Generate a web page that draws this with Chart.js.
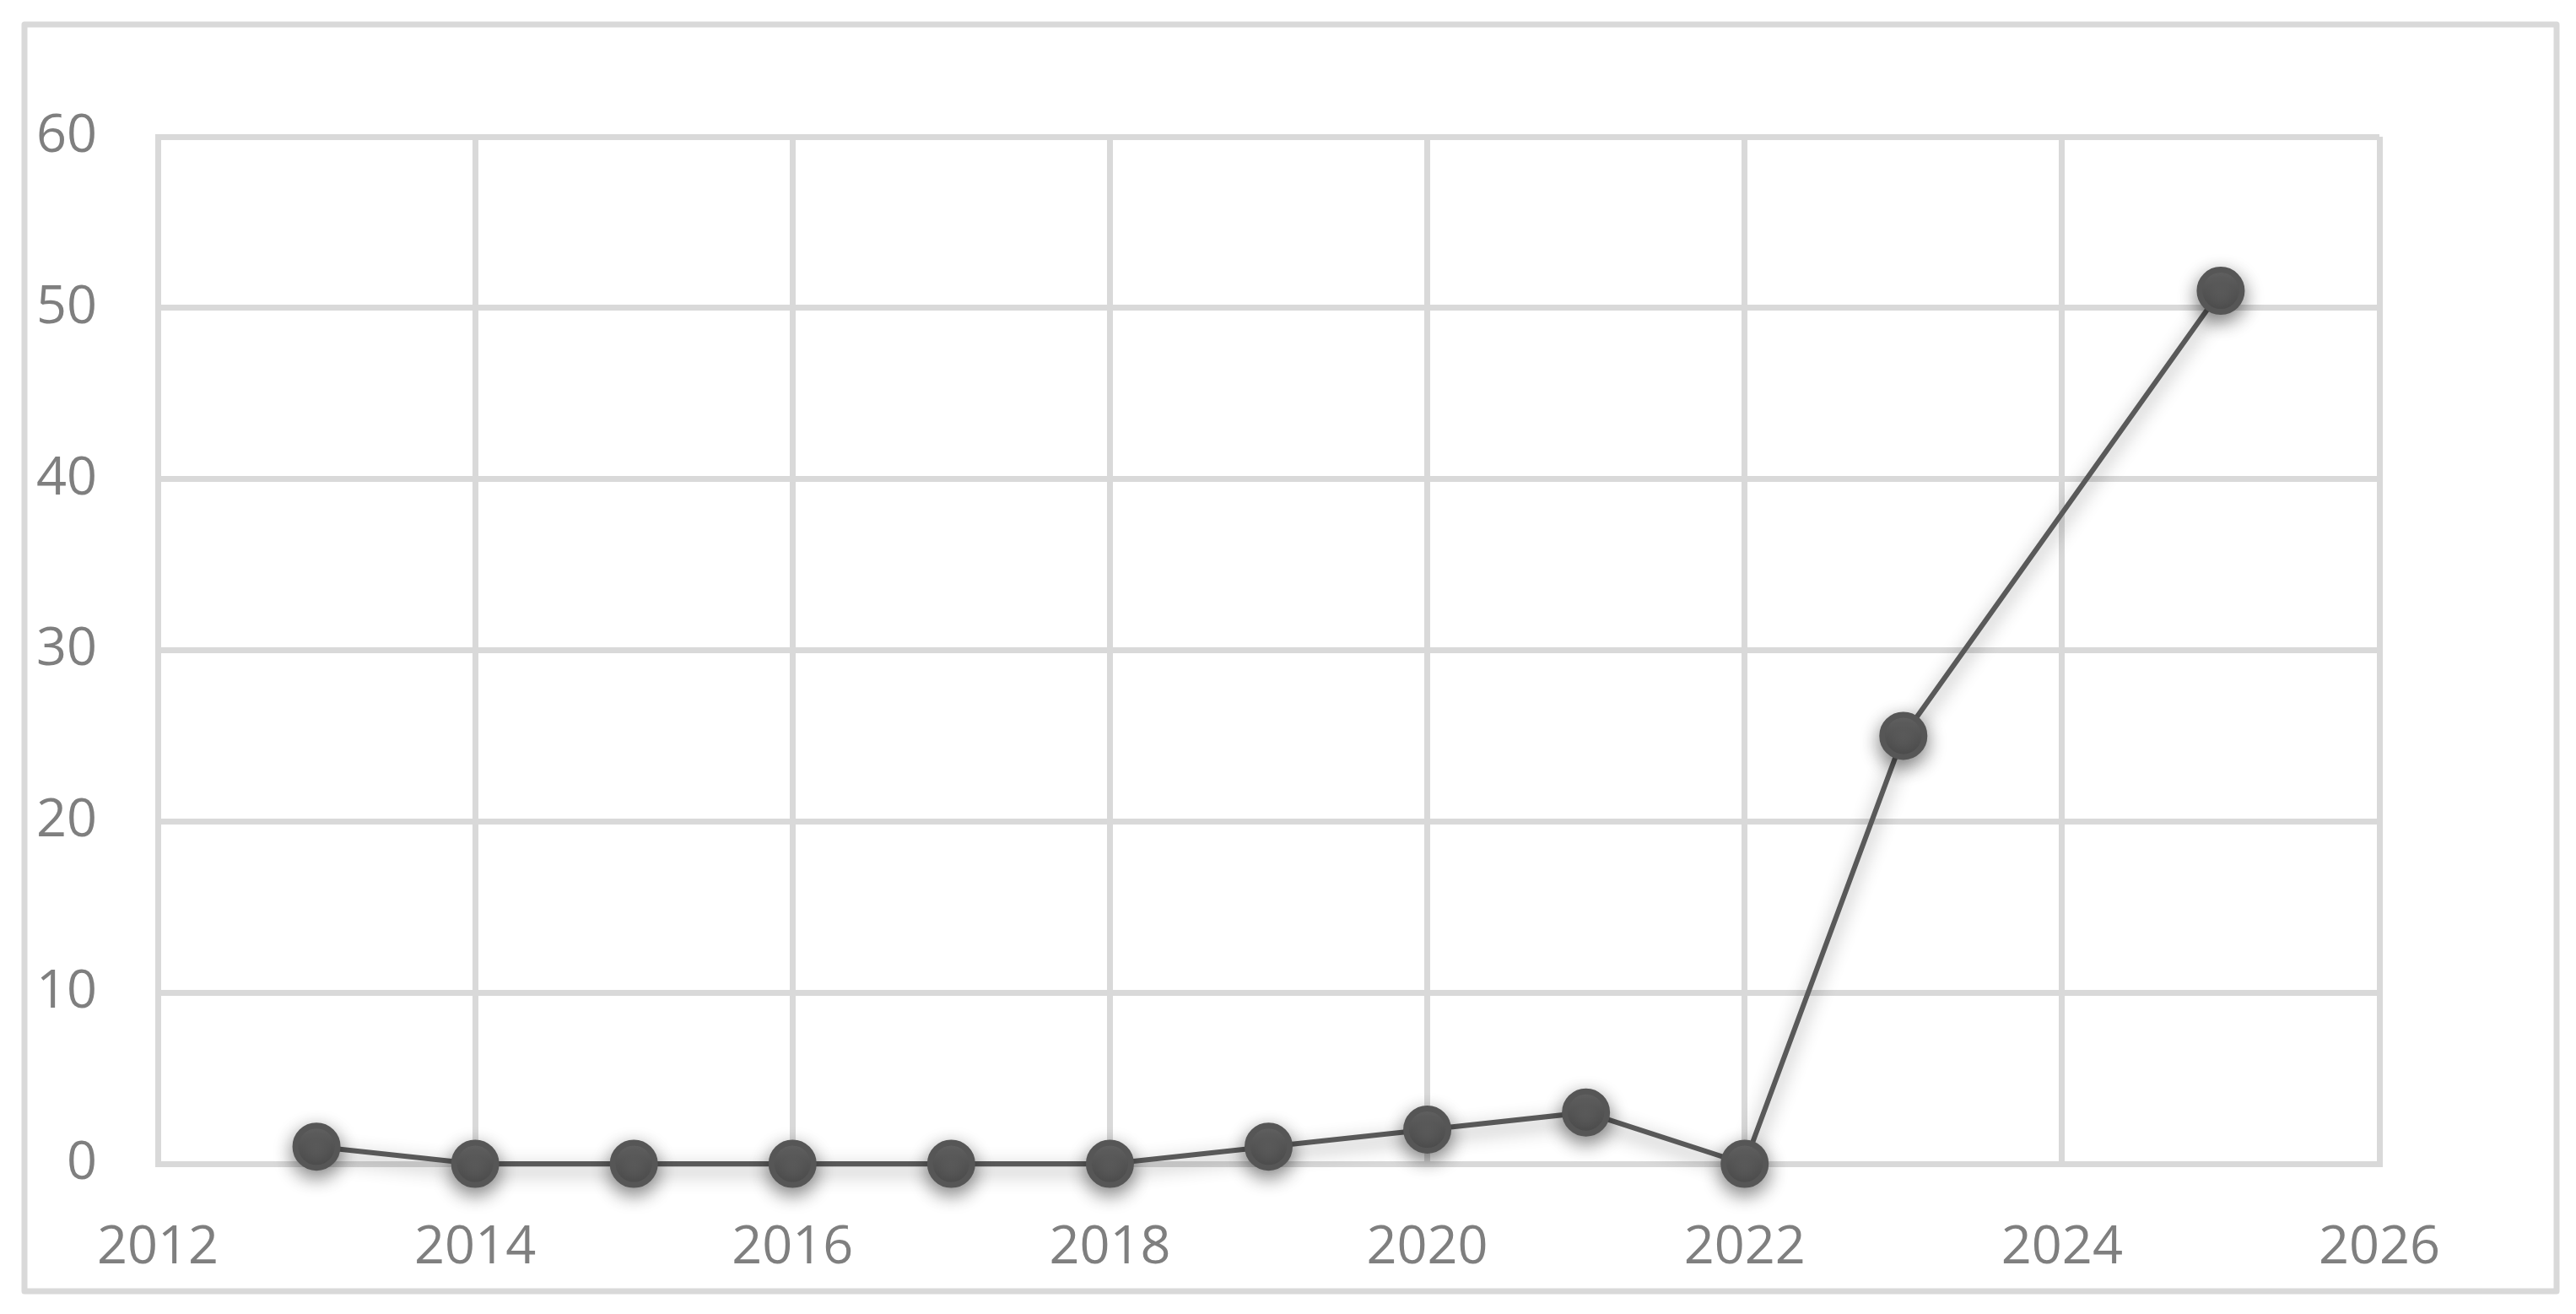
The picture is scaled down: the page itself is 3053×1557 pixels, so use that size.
<!DOCTYPE html>
<html>
<head>
<meta charset="utf-8">
<script src="https://cdn.jsdelivr.net/npm/chart.js@4/dist/chart.umd.min.js"></script>
<style>
  html, body { margin: 0; padding: 0; background: #ffffff; }
  #wrap { width: 3053px; height: 1557px; }
</style>
</head>
<body>
<div id="wrap"><canvas id="c" width="3053" height="1557"></canvas></div>
<script>
const years = [2013, 2014, 2015, 2016, 2017, 2018, 2019, 2020, 2021, 2022, 2023, 2025];
const counts = [1, 0, 0, 0, 0, 0, 1, 2, 3, 0, 25, 51];
const xTickRange = [2012, 2026, 2];
const yTickRange = [0, 60, 10];

const points = years.map((y, i) => ({ x: y, y: counts[i] }));

const GRID = '#d9d9d9';
const TEXT = '#7f7f7f';

const outerBorder = {
  id: 'outerBorder',
  beforeDraw(chart) {
    const ctx = chart.ctx;
    ctx.save();
    ctx.fillStyle = '#ffffff';
    ctx.fillRect(0, 0, chart.width, chart.height);
    ctx.strokeStyle = GRID;
    ctx.lineWidth = 7;
    ctx.lineJoin = 'round';
    ctx.strokeRect(29, 29, 3001, 1501);
    ctx.restore();
  }
};

const shadow = {
  id: 'shadow',
  beforeDatasetsDraw(chart) {
    const ctx = chart.ctx;
    ctx.save();
    ctx.shadowColor = 'rgba(0,0,0,0.45)';
    ctx.shadowBlur = 22;
    ctx.shadowOffsetX = 0;
    ctx.shadowOffsetY = 8;
  },
  afterDatasetsDraw(chart) {
    chart.ctx.restore();
  }
};

function pointFill(context) {
  const chart = context.chart;
  if (!chart.chartArea || context.parsed === undefined) return '#5c5c5c';
  const ys = chart.scales.y;
  const py = ys.getPixelForValue(context.parsed.y);
  const g = chart.ctx.createLinearGradient(0, py - 24, 0, py + 24);
  g.addColorStop(0, '#6c6c6c');
  g.addColorStop(1, '#535353');
  return g;
}

new Chart(document.getElementById('c'), {
  type: 'line',
  data: {
    datasets: [{
      data: points,
      clip: false,
      borderColor: '#595959',
      borderWidth: 6,
      pointRadius: 25,
      pointHoverRadius: 25,
      pointBorderWidth: 7,
      pointBorderColor: '#565656',
      pointBackgroundColor: pointFill,
      tension: 0,
      fill: false
    }]
  },
  plugins: [outerBorder, shadow],
  options: {
    responsive: false,
    animation: false,
    events: [],
    layout: { padding: { left: 0, top: 162, right: 233, bottom: 0 } },
    plugins: { legend: { display: false }, tooltip: { enabled: false } },
    scales: {
      x: {
        type: 'linear',
        min: xTickRange[0],
        max: xTickRange[1],
        afterFit(scale) { scale.height = 178; },
        ticks: {
          stepSize: xTickRange[2],
          color: TEXT,
          font: { family: 'Open Sans', size: 63 },
          padding: 62,
          maxRotation: 0,
          autoSkip: false,
          callback: (v) => String(v)
        },
        grid: { color: GRID, lineWidth: 7, drawTicks: false },
        border: { display: true, color: GRID, width: 7 }
      },
      y: {
        min: yTickRange[0],
        max: yTickRange[1],
        afterFit(scale) { scale.width = 187; },
        ticks: {
          stepSize: yTickRange[2],
          color: TEXT,
          font: { family: 'Open Sans', size: 63 },
          padding: 72
        },
        grid: { color: GRID, lineWidth: 7, drawTicks: false },
        border: { display: true, color: GRID, width: 7 }
      }
    }
  }
});
</script>
</body>
</html>
